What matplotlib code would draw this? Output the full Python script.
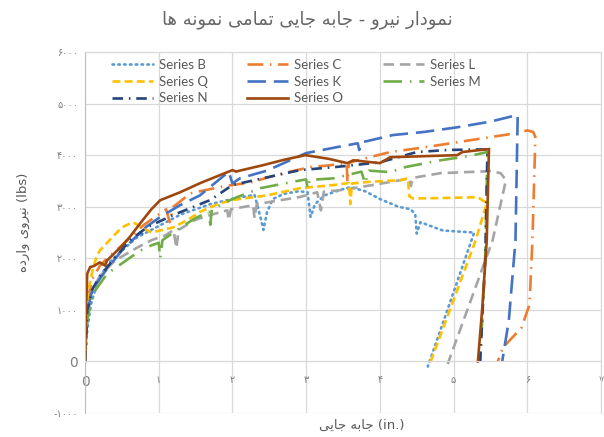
import matplotlib.pyplot as plt
from matplotlib.ticker import FixedLocator, FixedFormatter

# force-displacement curves of all specimens (x in inches, y in lbs)
b_x = [0, 0.03, 0.08, 0.12, 0.18, 0.25, 0.35, 0.5, 0.7, 0.9, 1.1, 1.3, 1.5, 1.7, 2.0, 2.3, 2.38, 2.42,
       2.47, 2.55, 2.7, 2.9, 3.02, 3.06, 3.12, 3.25, 3.45, 3.6, 3.8, 4.0, 4.25, 4.42, 4.48, 4.5, 4.55,
       4.7, 4.85, 5.05, 5.28, 4.65]
b_y = [0, 600, 1100, 1300, 1550, 1750, 1950, 2150, 2400, 2550, 2700, 2850, 2950, 3050, 3150, 3230, 2800, 2550,
       2900, 3150, 3250, 3300, 3280, 2800, 3050, 3220, 3320, 3380, 3300, 3150, 3000, 2950, 2850, 2480, 2700,
       2620, 2540, 2520, 2500, -100]

c_x = [0, 0.02, 0.05, 0.1, 0.2, 0.3, 0.5, 0.8, 1.0, 1.1, 1.15, 1.2, 1.43, 1.56, 1.9, 2.24, 2.69, 3.06,
       3.3, 3.55, 3.56, 3.58, 3.7, 4.14, 4.6, 5.05, 5.5, 5.87, 6.0, 6.08, 6.11, 6.07, 6.03, 5.92, 5.67, 5.6]
c_y = [0, 800, 1300, 1600, 1850, 2000, 2250, 2650, 2850, 2950, 2700, 3000, 3260, 3300, 3400, 3470, 3650, 3770,
       3800, 3845, 3480, 3850, 3900, 4060, 4150, 4250, 4350, 4430, 4480, 4450, 4350, 2350, 1100, 650, 270, 0]

l_x = [0, 0.03, 0.1, 0.2, 0.4, 0.7, 0.9, 1.1, 1.2, 1.24, 1.27, 1.5, 1.8, 1.93, 1.95, 1.98, 2.28, 2.3,
       2.33, 2.92, 3.15, 3.2, 3.24, 3.46, 3.9, 4.28, 4.4, 4.42, 4.45, 4.82, 5.5, 5.64, 5.71, 5.53, 4.92]
l_y = [0, 900, 1400, 1650, 1950, 2200, 2350, 2450, 2550, 2200, 2550, 2750, 2880, 2930, 2740, 2950, 3030, 2780,
       3050, 3190, 3280, 2930, 3290, 3320, 3420, 3515, 3550, 3400, 3560, 3650, 3690, 3650, 3515, 2350, -50]

q_x = [0, 0.02, 0.05, 0.1, 0.15, 0.2, 0.3, 0.4, 0.5, 0.65, 0.9, 1.2, 1.4, 1.56, 1.8, 2.0, 2.47, 2.92,
       3.37, 3.58, 3.6, 3.62, 3.83, 4.28, 4.38, 4.4, 4.45, 4.9, 5.33, 5.45, 5.3, 4.69]
q_y = [0, 900, 1400, 1750, 2000, 2150, 2300, 2450, 2600, 2700, 2500, 2600, 2750, 2900, 3050, 3130, 3220, 3360,
       3420, 3460, 3050, 3450, 3480, 3515, 3550, 3200, 3160, 3170, 3185, 3070, 2350, 0]

k_x = [0, 0.03, 0.08, 0.15, 0.3, 0.5, 0.75, 0.8, 0.82, 1.02, 1.29, 1.56, 1.95, 2.0, 2.1, 2.47, 3.0,
       3.4, 3.7, 3.72, 3.76, 4.18, 4.6, 5.05, 5.5, 5.87, 5.84, 5.75, 5.66]
k_y = [0, 900, 1300, 1500, 1800, 2150, 2500, 2450, 2600, 2800, 3030, 3220, 3680, 3450, 3550, 3700, 4040,
       4150, 4230, 4100, 4250, 4390, 4450, 4540, 4650, 4780, 2350, 800, 0]

m_x = [0, 0.03, 0.1, 0.3, 0.5, 0.75, 0.9, 1.0, 1.02, 1.05, 1.3, 1.5, 1.68, 1.7, 1.72, 2.0, 2.38, 2.92,
       3.0, 3.02, 3.05, 3.37, 3.75, 3.8, 3.85, 4.14, 4.35, 4.82, 5.2, 5.46, 5.43, 5.36]
m_y = [0, 800, 1300, 1700, 1900, 2150, 2250, 2300, 2000, 2350, 2600, 2780, 2900, 2650, 2950, 3150, 3360, 3510,
       3530, 3350, 3520, 3550, 3680, 3450, 3700, 3670, 3770, 3900, 3980, 4060, 2000, 0]

n_x = [0, 0.03, 0.1, 0.2, 0.4, 0.61, 0.84, 1.2, 1.7, 2.0, 2.47, 2.92, 3.4, 4.0, 4.5, 4.92, 5.3, 5.46, 5.43, 5.36]
n_y = [0, 1000, 1400, 1650, 2000, 2350, 2600, 2840, 3130, 3420, 3570, 3710, 3770, 3860, 4060, 4100, 4110, 4110,
       2000, 0]

o_x = [0, 0.014, 0.03, 0.07, 0.12, 0.2, 0.27, 0.3, 0.48, 0.6, 0.75, 0.9, 1.02, 1.29, 1.56, 1.83, 2.0, 2.05,
       2.1, 2.4, 2.7, 2.99, 3.3, 3.56, 3.64, 4.0, 4.14, 4.6, 5.05, 5.12, 5.3, 5.48, 5.45, 5.39, 5.33]
o_y = [0, 1000, 1700, 1830, 1850, 1920, 1860, 1960, 2210, 2400, 2680, 2950, 3126, 3280, 3456, 3612, 3709, 3680,
       3700, 3800, 3910, 4000, 3930, 3845, 3900, 3845, 3960, 3980, 4000, 4060, 4090, 4117, 2350, 1050, 0]

x_ticks = [0, 1, 2, 3, 4, 5, 6, 7]
y_ticks = [-1000, 0, 1000, 2000, 3000, 4000, 5000, 6000]

FA_DIGITS = str.maketrans('0123456789', '۰۱۲۳۴۵۶۷۸۹')

# Arabic presentation forms: isolated, final, initial, medial
FORMS = {
    'ا': ('\uFE8D', '\uFE8E', None, None),
    'ب': ('\uFE8F', '\uFE90', '\uFE91', '\uFE92'),
    'ت': ('\uFE95', '\uFE96', '\uFE97', '\uFE98'),
    'ج': ('\uFE9D', '\uFE9E', '\uFE9F', '\uFEA0'),
    'د': ('\uFEA9', '\uFEAA', None, None),
    'ر': ('\uFEAD', '\uFEAE', None, None),
    'م': ('\uFEE1', '\uFEE2', '\uFEE3', '\uFEE4'),
    'ن': ('\uFEE5', '\uFEE6', '\uFEE7', '\uFEE8'),
    'ه': ('\uFEE9', '\uFEEA', '\uFEEB', '\uFEEC'),
    'و': ('\uFEED', '\uFEEE', None, None),
    'ی': ('\uFBFC', '\uFBFD', '\uFBFE', '\uFBFF'),
}


def fa(text):
    # join letters and put them in visual (left-to-right) order
    out = []
    for i, ch in enumerate(text):
        if ch not in FORMS:
            out.append(ch)
            continue
        iso, fin, ini, med = FORMS[ch]
        prev = text[i - 1] if i > 0 else ''
        nxt = text[i + 1] if i + 1 < len(text) else ''
        join_prev = prev in FORMS and FORMS[prev][2] is not None
        join_next = nxt in FORMS and ini is not None
        if join_prev and join_next:
            out.append(med)
        elif join_prev:
            out.append(fin)
        elif join_next:
            out.append(ini)
        else:
            out.append(iso)
    return ''.join(out)[::-1]


def num_label(v):
    if v == 0:
        return '0'
    s = str(abs(v)).translate(FA_DIGITS)
    return '-' + s if v < 0 else s


series = [
    ('Series B', b_x, b_y, '#5B9BD5', (0, (0.6, 1.6))),
    ('Series C', c_x, c_y, '#ED7D31', (0, (6, 2.5, 0.6, 2.5))),
    ('Series L', l_x, l_y, '#A5A5A5', (0, (4, 2.2))),
    ('Series Q', q_x, q_y, '#FFC000', (0, (3, 1.6))),
    ('Series K', k_x, k_y, '#4472C4', (0, (7, 3))),
    ('Series M', m_x, m_y, '#70AD47', (0, (7, 3, 0.6, 3))),
    ('Series N', n_x, n_y, '#264478', (0, (4, 2.2, 0.6, 2.2))),
    ('Series O', o_x, o_y, '#9E480E', '-'),
]

fig = plt.figure(figsize=(6.04, 4.37), dpi=100)
ax = fig.add_axes([85 / 604, 1 - 413 / 437, (601 - 85) / 604, (413 - 52) / 437])

lines = {}
for name, xs, ys, color, ls in series:
    cap = 'round' if name == 'Series B' else 'butt'
    ln, = ax.plot(xs, ys, color=color, linestyle=ls, linewidth=1.9, label=name,
                  dash_capstyle=cap, solid_joinstyle='miter')
    lines[name] = ln

ax.set_xlim(0, 7)
ax.set_ylim(-1000, 6000)
ax.xaxis.set_major_locator(FixedLocator(x_ticks))
ax.yaxis.set_major_locator(FixedLocator(y_ticks))
ax.xaxis.set_major_formatter(FixedFormatter([num_label(v) for v in x_ticks]))
ax.yaxis.set_major_formatter(FixedFormatter([num_label(v) for v in y_ticks]))
ax.grid(True, color='#D9D9D9', linewidth=0.9)
ax.set_axisbelow(True)
for side in ['top', 'right']:
    ax.spines[side].set_color('#D9D9D9')
ax.spines['left'].set_color('#BFBFBF')
ax.spines['bottom'].set_position(('data', 0))
ax.spines['bottom'].set_color('#D9D9D9')
ax.tick_params(length=0, colors='#7F7F7F', labelsize=7)
ax.tick_params(axis='x', pad=10)
ax.tick_params(axis='y', pad=5)
for lab in ax.get_xticklabels() + ax.get_yticklabels():
    lab.set_family('DejaVu Sans')
    if lab.get_text() == '0':
        lab.set_fontsize(10)

order = ['Series B', 'Series Q', 'Series N', 'Series C', 'Series K', 'Series O', 'Series L', 'Series M']
fig.legend([lines[n] for n in order], order, loc='upper left', ncol=3,
           bbox_to_anchor=(104 / 604, 1 - 51 / 437), bbox_transform=fig.transFigure,
           frameon=False, handlelength=3.1, handletextpad=0.45,
           columnspacing=3.0, labelspacing=0.35, borderpad=0.1, labelcolor='#595959',
           prop={'family': 'Lato', 'size': 9.5})

fig.text(307 / 604, 1 - 20 / 437, fa('نمودار نیرو - جابه جایی تمامی نمونه ها'),
         ha='center', va='center', fontsize=13, color='#666666', family='DejaVu Sans')
fig.text(23 / 604, 1 - 222 / 437, fa('نیروی وارده') + ' (lbs)', rotation=90,
         ha='center', va='center', fontsize=9.5, color='#595959', family='DejaVu Sans')
fig.text(362 / 604, 1 - 425 / 437, fa('جابه جایی') + ' (in.)',
         ha='center', va='center', fontsize=9.5, color='#595959', family='DejaVu Sans')

fig.savefig('out.png', dpi=100)
